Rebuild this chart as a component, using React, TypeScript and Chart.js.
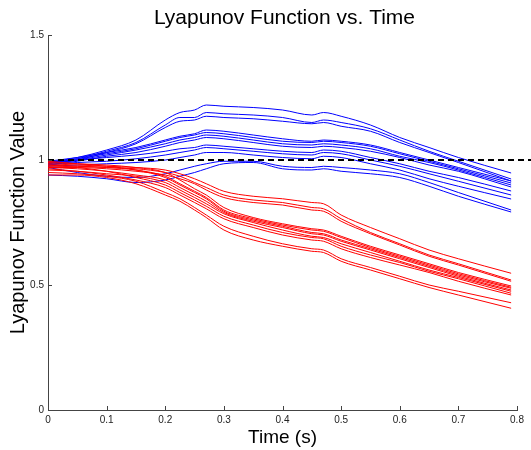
import React, { useEffect, useRef } from "react";
import { Chart, registerables } from "chart.js";

Chart.register(...registerables);

// Time samples (s)
const T = [0, 0.05, 0.1, 0.15, 0.2, 0.225, 0.25, 0.27, 0.3, 0.35, 0.4, 0.45, 0.47, 0.5, 0.55, 0.6, 0.65, 0.7, 0.79];

// Blue trajectories
const blue1 = [0.99, 1.01, 1.04, 1.08, 1.16, 1.19, 1.2, 1.22, 1.215, 1.21, 1.2, 1.18, 1.19, 1.175, 1.14, 1.09, 1.05, 1.01, 0.948];
const blue2 = [0.985, 1.005, 1.035, 1.07, 1.14, 1.17, 1.17, 1.19, 1.185, 1.18, 1.17, 1.15, 1.16, 1.15, 1.125, 1.08, 1.035, 0.995, 0.924];
const blue3 = [0.98, 1.0, 1.03, 1.065, 1.13, 1.155, 1.16, 1.175, 1.17, 1.165, 1.155, 1.145, 1.15, 1.135, 1.115, 1.07, 1.03, 0.99, 0.916];
const blue4 = [0.995, 1.01, 1.03, 1.05, 1.08, 1.095, 1.105, 1.12, 1.115, 1.1, 1.085, 1.075, 1.08, 1.075, 1.06, 1.03, 1.0, 0.97, 0.916];
const blue5 = [0.99, 1.005, 1.025, 1.045, 1.075, 1.09, 1.1, 1.11, 1.105, 1.09, 1.075, 1.07, 1.075, 1.07, 1.055, 1.025, 0.995, 0.965, 0.908];
const blue6 = [0.985, 1.0, 1.02, 1.04, 1.065, 1.08, 1.09, 1.1, 1.095, 1.08, 1.065, 1.06, 1.065, 1.06, 1.045, 1.015, 0.99, 0.96, 0.9];
const blue7 = [0.98, 0.995, 1.015, 1.03, 1.055, 1.07, 1.08, 1.09, 1.085, 1.07, 1.055, 1.05, 1.055, 1.05, 1.035, 1.01, 0.98, 0.955, 0.892];
const blue8 = [0.99, 1.0, 1.01, 1.02, 1.035, 1.045, 1.05, 1.06, 1.055, 1.045, 1.035, 1.03, 1.04, 1.035, 1.01, 0.985, 0.955, 0.93, 0.876];
const blue9 = [0.98, 0.99, 0.995, 1.005, 1.02, 1.03, 1.04, 1.05, 1.045, 1.035, 1.025, 1.02, 1.03, 1.025, 1.0, 0.975, 0.945, 0.915, 0.86];
const blue10 = [0.975, 0.98, 0.985, 0.99, 1.0, 1.01, 1.02, 1.03, 1.03, 1.02, 1.01, 1.005, 1.015, 1.01, 0.985, 0.96, 0.925, 0.895, 0.844];
const blue11 = [0.97, 0.95, 0.935, 0.93, 0.945, 0.96, 0.975, 0.985, 0.995, 0.995, 0.975, 0.97, 0.975, 0.97, 0.96, 0.945, 0.91, 0.87, 0.8];
const blue12 = [0.94, 0.935, 0.925, 0.91, 0.92, 0.935, 0.95, 0.965, 0.985, 0.99, 0.965, 0.96, 0.965, 0.955, 0.945, 0.93, 0.895, 0.855, 0.792];

// Red trajectories
const red1 = [0.985, 0.98, 0.975, 0.97, 0.96, 0.945, 0.925, 0.905, 0.875, 0.855, 0.845, 0.83, 0.825, 0.78, 0.73, 0.685, 0.64, 0.605, 0.547];
const red2 = [0.975, 0.975, 0.97, 0.965, 0.95, 0.935, 0.91, 0.89, 0.86, 0.84, 0.83, 0.81, 0.805, 0.765, 0.71, 0.665, 0.62, 0.585, 0.52];
const red3 = [0.97, 0.97, 0.965, 0.955, 0.94, 0.925, 0.905, 0.88, 0.85, 0.83, 0.82, 0.8, 0.795, 0.755, 0.705, 0.66, 0.615, 0.58, 0.515];
const red4 = [0.99, 0.985, 0.98, 0.97, 0.95, 0.92, 0.885, 0.86, 0.81, 0.77, 0.745, 0.725, 0.72, 0.695, 0.655, 0.62, 0.585, 0.55, 0.496];
const red5 = [0.98, 0.975, 0.97, 0.96, 0.935, 0.905, 0.875, 0.85, 0.8, 0.765, 0.74, 0.72, 0.715, 0.69, 0.65, 0.615, 0.58, 0.545, 0.491];
const red6 = [0.995, 0.985, 0.975, 0.96, 0.93, 0.9, 0.87, 0.845, 0.795, 0.76, 0.735, 0.71, 0.705, 0.68, 0.645, 0.61, 0.575, 0.54, 0.487];
const red7 = [0.97, 0.965, 0.955, 0.94, 0.92, 0.89, 0.86, 0.835, 0.79, 0.755, 0.73, 0.705, 0.7, 0.675, 0.64, 0.605, 0.57, 0.535, 0.48];
const red8 = [0.96, 0.955, 0.945, 0.935, 0.91, 0.88, 0.85, 0.825, 0.785, 0.75, 0.72, 0.695, 0.69, 0.665, 0.63, 0.595, 0.56, 0.53, 0.475];
const red9 = [0.98, 0.97, 0.955, 0.93, 0.9, 0.87, 0.84, 0.815, 0.775, 0.74, 0.71, 0.69, 0.685, 0.655, 0.62, 0.59, 0.555, 0.525, 0.467];
const red10 = [0.965, 0.955, 0.94, 0.92, 0.89, 0.86, 0.83, 0.805, 0.765, 0.73, 0.7, 0.68, 0.675, 0.645, 0.61, 0.58, 0.55, 0.515, 0.46];
const red11 = [0.95, 0.945, 0.935, 0.915, 0.87, 0.845, 0.81, 0.78, 0.735, 0.695, 0.665, 0.645, 0.64, 0.605, 0.57, 0.535, 0.5, 0.475, 0.429];
const red12 = [0.94, 0.94, 0.93, 0.905, 0.86, 0.835, 0.8, 0.77, 0.72, 0.68, 0.655, 0.635, 0.63, 0.595, 0.56, 0.525, 0.49, 0.46, 0.407];

const BLUE_SERIES = [blue1, blue2, blue3, blue4, blue5, blue6, blue7, blue8, blue9, blue10, blue11, blue12];
const RED_SERIES = [red1, red2, red3, red4, red5, red6, red7, red8, red9, red10, red11, red12];

// Reference level
const REF_X = [0, 0.83];
const REF_Y = [1, 1];

const X_TICKS = [0, 0.1, 0.2, 0.3, 0.4, 0.5, 0.6, 0.7, 0.8];
const Y_TICKS = [0, 0.5, 1, 1.5];

const TITLE = "Lyapunov Function vs. Time";
const X_LABEL = "Time (s)";
const Y_LABEL = "Lyapunov Function Value";

const FONT = "'Liberation Sans', Arial, Helvetica, sans-serif";

const toPoints = (ys: number[]) => ys.map((y, i) => ({ x: T[i], y }));

const decorPlugin = {
  id: "decor",
  afterDraw(chart: any) {
    const ctx = chart.ctx;
    const { left, right, top, bottom } = chart.chartArea;
    const xs = chart.scales.x;
    const ys = chart.scales.y;
    ctx.save();
    ctx.strokeStyle = "#444";
    ctx.lineWidth = 1;
    ctx.beginPath();
    X_TICKS.forEach((v) => {
      const px = Math.round(xs.getPixelForValue(v)) + 0.5;
      ctx.moveTo(px, bottom);
      ctx.lineTo(px, bottom - 4);
    });
    Y_TICKS.forEach((v) => {
      const py = Math.round(ys.getPixelForValue(v)) + 0.5;
      ctx.moveTo(left, py);
      ctx.lineTo(left + 4, py);
    });
    ctx.stroke();

    ctx.fillStyle = "#000";
    ctx.textAlign = "center";
    ctx.textBaseline = "alphabetic";
    const cx = (left + right) / 2;
    ctx.font = `21px ${FONT}`;
    ctx.fillText(TITLE, cx + 2, 24);
    ctx.font = `19px ${FONT}`;
    ctx.fillText(X_LABEL, cx, 443);
    ctx.translate(24, (top + bottom) / 2);
    ctx.rotate(-Math.PI / 2);
    ctx.font = `20px ${FONT}`;
    ctx.fillText(Y_LABEL, 0, 0);
    ctx.restore();
  },
};

export default function App() {
  const ref = useRef<HTMLCanvasElement | null>(null);

  useEffect(() => {
    if (!ref.current) return;
    const datasets: any[] = [];
    datasets.push({
      data: REF_X.map((x, i) => ({ x, y: REF_Y[i] })),
      borderColor: "#000",
      borderWidth: 2,
      borderDash: [6, 4],
      pointRadius: 0,
      clip: false,
    });
    RED_SERIES.forEach((s) =>
      datasets.push({
        data: toPoints(s),
        borderColor: "#ff0000",
        borderWidth: 1,
        pointRadius: 0,
        cubicInterpolationMode: "monotone",
      })
    );
    BLUE_SERIES.forEach((s) =>
      datasets.push({
        data: toPoints(s),
        borderColor: "#0000ff",
        borderWidth: 1,
        pointRadius: 0,
        cubicInterpolationMode: "monotone",
      })
    );

    const chart = new Chart(ref.current, {
      type: "line",
      data: { datasets },
      options: {
        responsive: false,
        animation: false,
        devicePixelRatio: 1,
        layout: { padding: { left: 0, right: 14, top: 35, bottom: 0 } },
        plugins: { legend: { display: false }, tooltip: { enabled: false }, title: { display: false } },
        scales: {
          x: {
            type: "linear",
            min: 0,
            max: 0.8,
            afterFit: (s: any) => {
              s.height = 40;
            },
            afterBuildTicks: (s: any) => {
              s.ticks = X_TICKS.map((v) => ({ value: v }));
            },
            grid: { display: false, drawTicks: false },
            border: { display: true, color: "#444", width: 1 },
            ticks: {
              padding: 4,
              color: "#222",
              font: { family: FONT, size: 10 },
              maxRotation: 0,
              autoSkip: false,
              callback: (v: any) => String(Math.round(Number(v) * 10) / 10),
            },
          },
          y: {
            type: "linear",
            min: 0,
            max: 1.5,
            afterFit: (s: any) => {
              s.width = 48;
            },
            afterBuildTicks: (s: any) => {
              s.ticks = Y_TICKS.map((v) => ({ value: v }));
            },
            grid: { display: false, drawTicks: false },
            border: { display: true, color: "#444", width: 1 },
            ticks: {
              padding: 4,
              color: "#222",
              font: { family: FONT, size: 10 },
              callback: (v: any) => String(v),
            },
          },
        },
      },
      plugins: [decorPlugin],
    });
    return () => chart.destroy();
  }, []);

  return (
    <div style={{ position: "fixed", left: 0, top: 0, width: 531, height: 450, background: "#fff" }}>
      <canvas ref={ref} width={531} height={450} />
    </div>
  );
}
